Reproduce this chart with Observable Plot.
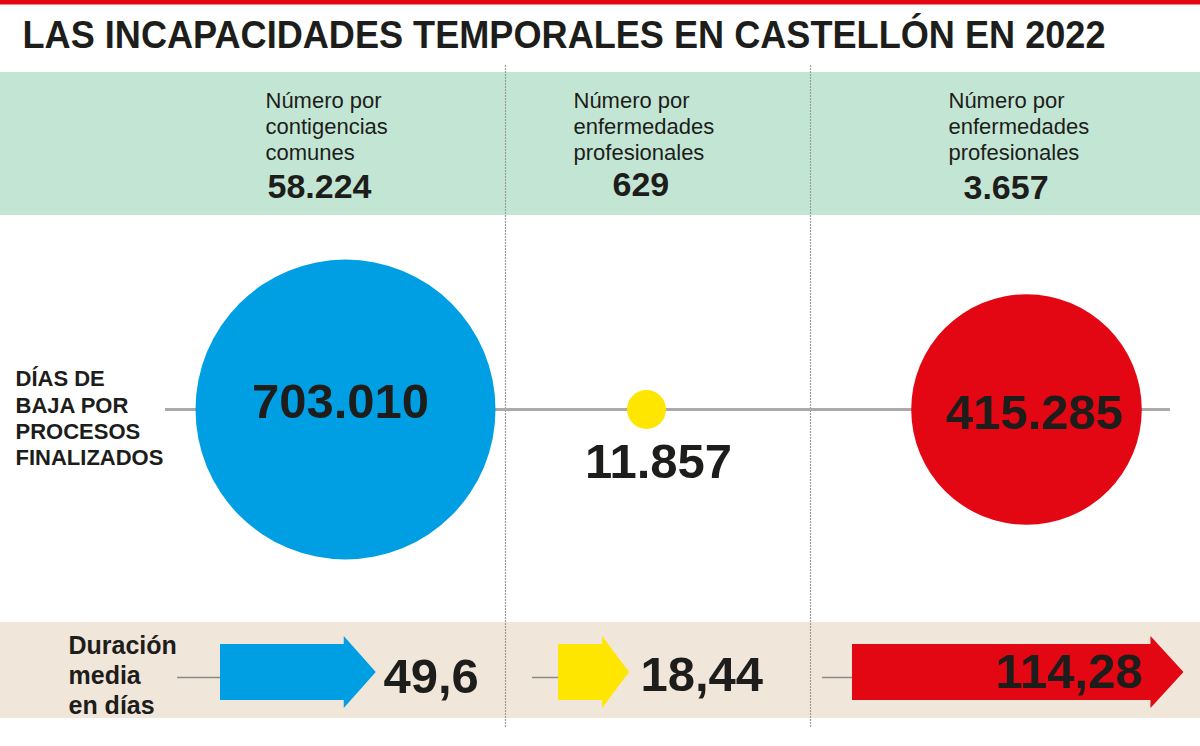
<!DOCTYPE html>
<html><head><meta charset="utf-8">
<script src="https://cdn.jsdelivr.net/npm/d3@7"></script>
<script src="https://cdn.jsdelivr.net/npm/@observablehq/plot@0.6"></script>
<style>html,body{margin:0;padding:0;background:#fff}svg{display:block}</style>
</head><body><div id="chart"></div>
<script>
// ---------- DATA ----------
const titulo = "LAS INCAPACIDADES TEMPORALES EN CASTELLÓN EN 2022";
const categorias = ["Contingencias comunes", "Enfermedades profesionales", "Enfermedades profesionales (2)"];
const encabezados = [
  "Número por\ncontigencias\ncomunes",
  "Número por\nenfermedades\nprofesionales",
  "Número por\nenfermedades\nprofesionales"
];
const numeroProcesos = [58224, 629, 3657];
const diasBaja = [703010, 11857, 415285];
const duracionMedia = [49.6, 18.44, 114.28];
const colores = ["#009fe3", "#ffe600", "#e30613"];
const etiquetaDias = "DÍAS DE\nBAJA POR\nPROCESOS\nFINALIZADOS";
const etiquetaDuracion = "Duración\nmedia\nen días";

// ---------- FORMAT ----------
const es = d3.formatLocale({decimal: ",", thousands: ".", grouping: [3], currency: ["", "€"]});
const fmtInt = es.format(",d");
const fmtDec = es.format(",");

// ---------- LAYOUT (positions / sizes / styles) ----------
const W = 1200, H = 746;
const ink = "#1d1d1b";
const headerX = [265, 573, 948];
const headerY = 89;
const headerNumX = [267, 612, 963];
const headerNumY = [187, 185, 188];
const circleX = [345, 646, 1026];
const circleY = 409;
const circleLabelPos = [[340, 402], [658, 462], [1034, 413]];
const arrowStart = [220, 558, 852];
const arrowY = 672, bodyHalf = 28, headHalf = 36;
const headLen = [32, 27, 33];
const leadLen = [43, 26, 30];
const valueX = [383, 640, 995];
const valueY = [677, 675, 672];

const lengthScale = Plot.scale({x: {type: "linear", domain: [0, 120], range: [21, 347]}});

const rows = categorias.map((c, i) => ({
  cat: c, i, header: encabezados[i], numero: numeroProcesos[i],
  dias: diasBaja[i], duracion: duracionMedia[i], color: colores[i]
}));

// arrow polygons built from duration values
const arrowPts = rows.flatMap(d => {
  const s = arrowStart[d.i];
  const e = s + lengthScale.apply(d.duracion);
  const b = e - headLen[d.i];
  return [
    {id: d.cat, color: d.color, x: s, y1: arrowY - bodyHalf, y2: arrowY + bodyHalf},
    {id: d.cat, color: d.color, x: b, y1: arrowY - bodyHalf, y2: arrowY + bodyHalf},
    {id: d.cat, color: d.color, x: b, y1: arrowY - headHalf, y2: arrowY + headHalf},
    {id: d.cat, color: d.color, x: e, y1: arrowY, y2: arrowY}
  ];
});

const chart = Plot.plot({
  width: W, height: H,
  margin: 0,
  x: {domain: [0, W], range: [0, W], axis: null},
  y: {domain: [0, H], range: [0, H], axis: null},
  r: {type: "sqrt", domain: [0, 703010], range: [0, 150]},
  color: {type: "identity"},
  style: {fontFamily: "'Liberation Sans', Arial, Helvetica, sans-serif", background: "#fff", color: ink},
  marks: [
    // background bands
    Plot.rect([0], {x1: 0, x2: W, y1: 0, y2: 4.5, fill: "#e30613"}),
    Plot.rect([0], {x1: 0, x2: W, y1: 72, y2: 215, fill: "#c3e6d4"}),
    Plot.rect([0], {x1: 0, x2: W, y1: 622, y2: 718, fill: "#f1e6da"}),
    // dividers
    Plot.ruleX([505, 810], {x: d => d, y1: 65, y2: 728, stroke: "#9a9a9a", strokeWidth: 1.2, strokeDasharray: "2,1"}),
    // horizontal axis line through circles
    Plot.ruleY([circleY], {y: d => d, x1: 165, x2: 1170, stroke: "#aaaaaa", strokeWidth: 3}),
    // lead lines before arrows
    Plot.ruleY(rows, {y: () => arrowY + 5, x1: d => arrowStart[d.i] - leadLen[d.i], x2: d => arrowStart[d.i], stroke: "#8a8a8a", strokeWidth: 1.5}),
    // circles (area ∝ días de baja)
    Plot.dot(rows, {x: d => circleX[d.i], y: circleY, r: "dias", fill: "color", stroke: null}),
    // arrows (length ∝ duración media)
    Plot.areaY(arrowPts, {x: "x", y1: "y1", y2: "y2", z: "id", fill: "color", curve: "linear"}),
    // title
    Plot.text([titulo], {x: 22, y: 35, text: d => d, textAnchor: "start", fontSize: 38, fontWeight: "bold", fill: ink}),
    // headers
    Plot.text(rows, {x: d => headerX[d.i], y: headerY, text: "header", textAnchor: "start", lineAnchor: "top", lineHeight: 1.18, fontSize: 22, fill: ink}),
    Plot.text(rows, {x: d => headerNumX[d.i], y: d => headerNumY[d.i], text: d => fmtInt(d.numero), textAnchor: "start", fontSize: 34, fontWeight: "bold", fill: ink}),
    // left labels
    Plot.text([etiquetaDias], {x: 15, y: 367, text: d => d, textAnchor: "start", lineAnchor: "top", lineHeight: 1.2, fontSize: 22, fontWeight: "bold", fill: ink}),
    Plot.text([etiquetaDuracion], {x: 68, y: 632, text: d => d, textAnchor: "start", lineAnchor: "top", lineHeight: 1.2, fontSize: 25, fontWeight: "bold", fill: ink}),
    // circle values
    Plot.text(rows, {x: d => circleLabelPos[d.i][0], y: d => circleLabelPos[d.i][1], text: d => fmtInt(d.dias), fontSize: 49, fontWeight: "bold", fill: ink}),
    // duration values
    Plot.text(rows, {x: d => valueX[d.i], y: d => valueY[d.i], text: d => fmtDec(d.duracion), textAnchor: "start", fontSize: 49, fontWeight: "bold", fill: ink})
  ]
});

// fit title to reference width
d3.select(chart).selectAll("text").filter(function() { return this.textContent === titulo; })
  .attr("textLength", 1083).attr("lengthAdjust", "spacingAndGlyphs");

document.getElementById("chart").appendChild(chart);
</script>
</body></html>
